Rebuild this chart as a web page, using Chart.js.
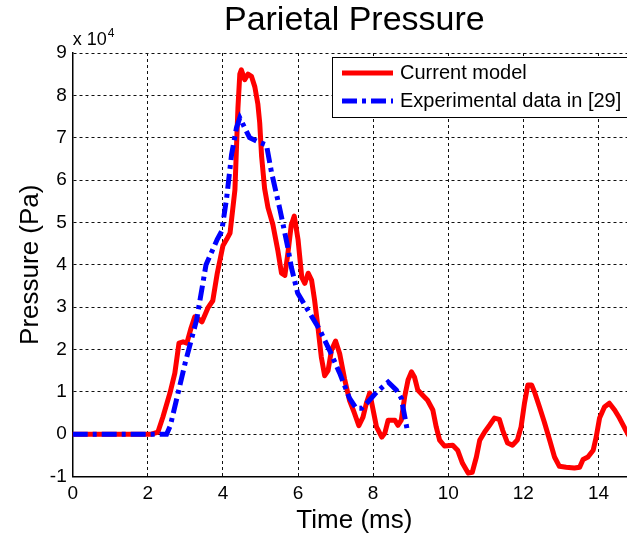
<!DOCTYPE html>
<html>
<head>
<meta charset="utf-8">
<script src="https://cdn.jsdelivr.net/npm/chart.js@4/dist/chart.umd.min.js"></script>
<style>
html,body{margin:0;padding:0;overflow:hidden;background:#fff;}
canvas{display:block;}
</style>
</head>
<body>
<canvas id="c" width="640" height="541"></canvas>
<script>
// Time (ms) and pressure (x 10^4 Pa)
const modelTime = [0,2.1,2.27,2.4,2.59,2.72,2.83,2.94,3.04,3.15,3.25,3.35,3.44,3.6,3.73,3.85,4.0,4.1,4.19,4.32,4.4,4.45,4.49,4.58,4.67,4.76,4.85,4.93,4.98,5.03,5.11,5.2,5.33,5.46,5.56,5.65,5.73,5.82,5.9,6.0,6.1,6.18,6.27,6.36,6.44,6.53,6.62,6.71,6.8,6.89,7.0,7.11,7.24,7.37,7.5,7.62,7.73,7.82,7.91,8.0,8.09,8.23,8.31,8.4,8.58,8.66,8.75,8.84,8.93,9.02,9.1,9.19,9.32,9.45,9.59,9.68,9.77,9.9,10.12,10.25,10.38,10.53,10.64,10.75,10.84,10.97,11.1,11.23,11.36,11.45,11.58,11.71,11.84,11.94,12.03,12.12,12.22,12.3,12.43,12.56,12.7,12.83,12.96,13.14,13.36,13.5,13.59,13.72,13.86,13.94,14.03,14.16,14.29,14.43,14.56,14.7,14.85,15.0];
const modelPressure = [0,0,0.05,0.4,0.97,1.44,2.15,2.18,2.15,2.5,2.77,2.72,2.65,2.98,3.15,3.8,4.45,4.6,4.75,5.77,7.7,8.5,8.6,8.37,8.5,8.45,8.2,7.8,7.35,6.56,5.8,5.35,4.95,4.35,3.8,3.75,4.27,4.94,5.15,4.6,3.7,3.56,3.8,3.64,3.17,2.53,1.82,1.38,1.5,1.98,2.2,1.9,1.3,0.8,0.5,0.2,0.4,0.73,0.97,0.57,0.17,-0.07,0.02,0.33,0.33,0.21,0.33,0.88,1.28,1.47,1.35,1.04,0.92,0.8,0.57,0.17,-0.14,-0.28,-0.26,-0.38,-0.69,-0.92,-0.9,-0.54,-0.14,0.05,0.21,0.38,0.35,0.09,-0.21,-0.26,-0.14,0.17,0.73,1.16,1.16,0.99,0.64,0.28,-0.14,-0.54,-0.76,-0.78,-0.8,-0.78,-0.6,-0.54,-0.38,-0.07,0.38,0.64,0.73,0.57,0.38,0.14,-0.1,-0.3];
const expTime = [0,2.5,2.6,3.0,3.3,3.55,3.85,3.97,4.1,4.23,4.36,4.45,4.71,4.94,5.16,5.29,5.52,5.73,5.82,5.99,6.31,6.58,6.84,7.11,7.37,7.55,7.69,7.86,8.09,8.4,8.62,8.75,8.82,8.9];
const expPressure = [0,0,0.2,1.7,2.7,4.0,4.6,4.8,5.58,6.6,7.23,7.47,7.0,6.9,6.83,6.2,5.3,4.4,3.95,3.33,2.86,2.46,1.98,1.44,0.85,0.61,0.61,0.76,0.99,1.23,1.04,0.85,0.52,0.14];
const seriesNames = ["Current model", "Experimental data in [29]"];
const xTicks = [0,2,4,6,8,10,12,14];
const yTicks = [-1,0,1,2,3,4,5,6,7,8,9];

const pts = (xs, ys) => xs.map((x, i) => ({x: x, y: ys[i]}));
const FONT = "Arial, 'Liberation Sans', sans-serif";

const overlay = {
  id: 'overlay',
  afterDraw(chart) {
    const ctx = chart.ctx, a = chart.chartArea;
    ctx.save();
    ctx.fillStyle = '#000';
    // title
    ctx.font = '34px ' + FONT;
    ctx.textAlign = 'center';
    ctx.textBaseline = 'middle';
    ctx.fillText('Parietal Pressure', (a.left + a.right) / 2, 21);
    // exponent
    ctx.font = '18px ' + FONT;
    ctx.textAlign = 'left';
    ctx.textBaseline = 'alphabetic';
    ctx.fillText('x 10', a.left, 45);
    const w = ctx.measureText('x 10').width;
    ctx.font = '12px ' + FONT;
    ctx.fillText('4', a.left + w + 1, 37);
    // legend
    const bx = 332, by = 57, bw = 320, bh = 60;
    ctx.fillStyle = '#fff';
    ctx.fillRect(bx, by, bw, bh);
    ctx.strokeStyle = '#000';
    ctx.lineWidth = 1;
    ctx.strokeRect(bx + 0.5, by + 0.5, bw, bh);
    const ds = chart.data.datasets;
    const rows = [73, 101];
    ds.forEach((d, i) => {
      ctx.beginPath();
      ctx.setLineDash(d.borderDash || []);
      ctx.lineWidth = d.borderWidth;
      ctx.strokeStyle = d.borderColor;
      ctx.lineCap = 'butt';
      ctx.moveTo(342, rows[i]);
      ctx.lineTo(393, rows[i]);
      ctx.stroke();
      ctx.setLineDash([]);
      ctx.fillStyle = '#000';
      ctx.font = '20px ' + FONT;
      ctx.textAlign = 'left';
      ctx.textBaseline = 'middle';
      ctx.fillText(d.label, 400, rows[i]);
    });
    ctx.restore();
  }
};

new Chart(document.getElementById('c'), {
  type: 'line',
  data: {
    datasets: [
      {
        label: seriesNames[0],
        data: pts(modelTime, modelPressure),
        borderColor: '#ff0000',
        borderWidth: 5,
        borderJoinStyle: 'round',
        borderCapStyle: 'round',
        pointRadius: 0,
        tension: 0,
        order: 1
      },
      {
        label: seriesNames[1],
        data: pts(expTime, expPressure),
        borderColor: '#0000ff',
        borderWidth: 5,
        borderDash: [15, 5, 4, 5],
        borderCapStyle: 'butt',
        pointRadius: 0,
        tension: 0,
        order: 0
      }
    ]
  },
  options: {
    responsive: false,
    animation: false,
    layout: {padding: {top: 53, right: 4, left: 0, bottom: 0}},
    plugins: {legend: {display: false}, title: {display: false}, tooltip: {enabled: false}},
    scales: {
      x: {
        type: 'linear',
        min: 0, max: 15,
        afterFit(s) { s.height = 64.5; },
        afterBuildTicks(s) { s.ticks = xTicks.map(v => ({value: v})); },
        ticks: {color: '#000', font: {size: 19, family: FONT}, padding: 6, maxRotation: 0, autoSkip: false},
        grid: {color: '#111', lineWidth: 1, drawTicks: false},
        border: {display: true, color: '#000', width: 1.5, dash: [3, 3]},
        title: {display: true, text: 'Time (ms)', color: '#000', font: {size: 26, family: FONT}, padding: {top: 0, bottom: 5}}
      },
      y: {
        type: 'linear',
        min: -1, max: 9,
        afterFit(s) { s.width = 72.7; },
        afterBuildTicks(s) { s.ticks = yTicks.map(v => ({value: v})); },
        ticks: {color: '#000', font: {size: 19, family: FONT}, padding: 6, autoSkip: false},
        grid: {color: '#111', lineWidth: 1, drawTicks: false},
        border: {display: true, color: '#000', width: 1.5, dash: [3, 3]},
        title: {display: true, text: 'Pressure (Pa)', color: '#000', font: {size: 26, family: FONT}, padding: {top: 15, bottom: 0}}
      }
    }
  },
  plugins: [overlay]
});
</script>
</body>
</html>
